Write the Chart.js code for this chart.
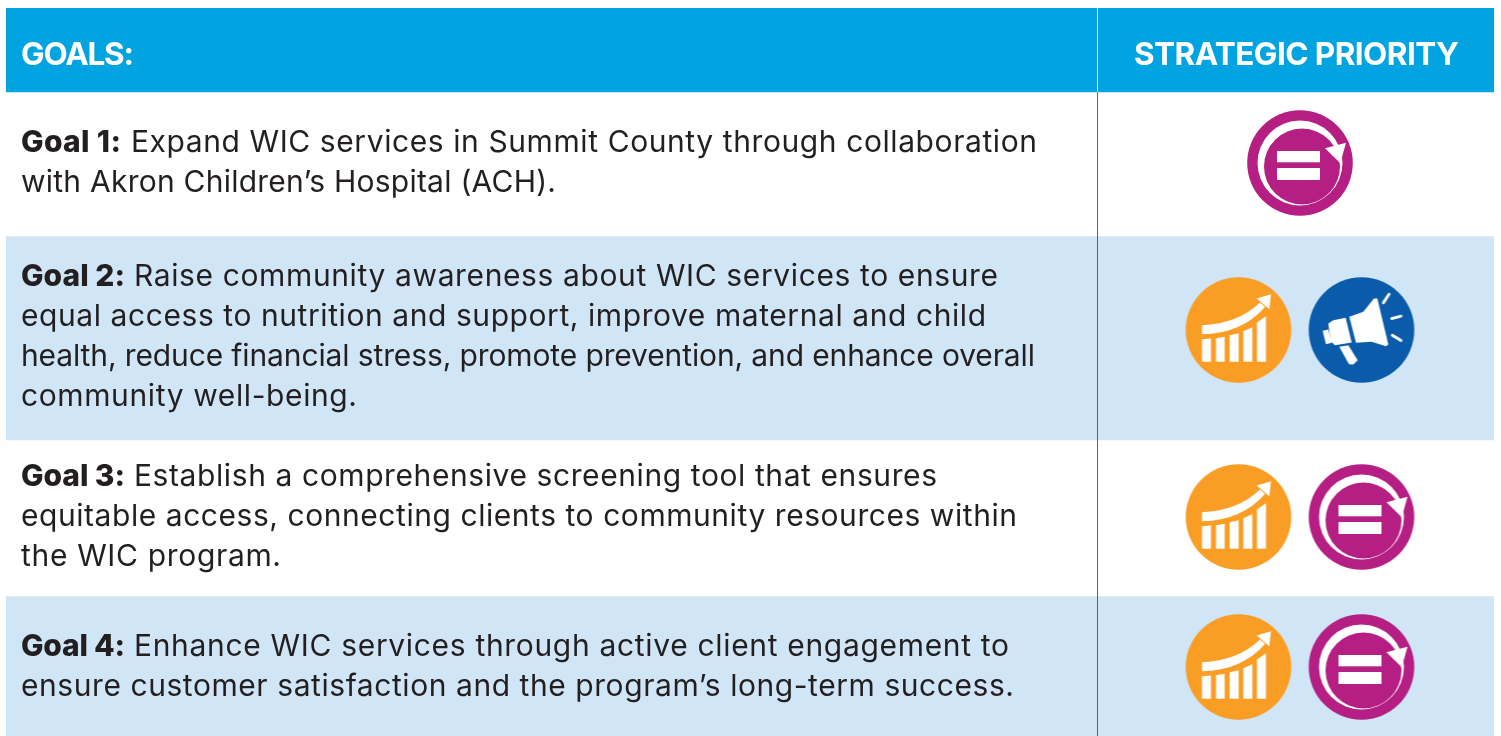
<!DOCTYPE html>
<html><head><meta charset="utf-8">
<style>html,body{margin:0;padding:0;background:#fff}canvas{display:block}</style>
<script src="https://cdn.jsdelivr.net/npm/chart.js@4"></script>
</head><body><canvas id="c" width="1501" height="736"></canvas>
<script>
// ---- content ----
const rowNames = ['header', 'goal1', 'goal2', 'goal3', 'goal4'];
const rowHeights = [84, 144, 204, 156, 140];
const headerLabels = ['GOALS:', 'STRATEGIC PRIORITY'];
const goalLabels = ['Goal 1:', 'Goal 2:', 'Goal 3:', 'Goal 4:'];
const goalLines = [
  ['Expand WIC services in Summit County through collaboration', 'with Akron Children’s Hospital (ACH).'],
  ['Raise community awareness about WIC services to ensure', 'equal access to nutrition and support, improve maternal and child', 'health, reduce financial stress, promote prevention, and enhance overall', 'community well-being.'],
  ['Establish a comprehensive screening tool that ensures', 'equitable access, connecting clients to community resources within', 'the WIC program.'],
  ['Enhance WIC services through active client engagement to', 'ensure customer satisfaction and the program’s long-term success.']
];
// strategic-priority icons per goal, located in table units
const iconNames = ['equity', 'growth', 'voice', 'growth', 'equity', 'growth', 'equity'];
const iconX = [1294, 1232.5, 1355.5, 1232.5, 1355.5, 1232.5, 1355.5];
const iconY = [155, 322, 322, 509, 509, 659, 659];
const dividerX = [1091.5, 1091.5];
const dividerHeaderY = [0, 84];
const dividerBodyY = [84, 728];

// ---- layout / style ----
const TW = 1488, TH = 728;
const rowColors = ['#02a3e1', '#ffffff', '#d0e6f7', '#ffffff', '#d0e6f7'];
const firstBaselines = [144, 278, 478, 648];
const lineStep = 40;
const labelEnds = [115, 119, 119, 119];
const firstStarts = [125, 128, 128, 128];
const lineEnds = [[1031, 550], [992, 980, 1029, 351], [931, 1011, 275], [1003, 1008]];
const FONT = 'Inter';

function poly(ctx, pts, ox, oy) {
  ctx.beginPath();
  pts.forEach((p, i) => { const x = p[0] / 3 - ox, y = p[1] / 3 - oy; i ? ctx.lineTo(x, y) : ctx.moveTo(x, y); });
  ctx.closePath(); ctx.fill();
}
function icon(name) {
  const cv = document.createElement('canvas'); cv.width = cv.height = 110;
  const g = cv.getContext('2d');
  g.translate(55, 55);
  g.fillStyle = {equity: '#b51f83', growth: '#f99d25', voice: '#0a5cab'}[name];
  g.beginPath(); g.arc(0, 0, 52.8, 0, 7); g.fill();
  g.fillStyle = '#fff'; g.strokeStyle = '#fff';
  if (name === 'equity') {
    g.beginPath(); g.arc(0, 0, 42.5, 0, 7); g.arc(2, 3.5, 38, 0, 7); g.fill('evenodd');
    g.beginPath(); g.moveTo(25, -14.7); g.lineTo(46, -20.3); g.lineTo(40.3, 0.3); g.closePath(); g.fill();
    g.fillRect(-23, -12, 43, 11.3); g.fillRect(-23, 5, 43, 12);
  } else if (name === 'growth') {
    const ox = 63.5, oy = 64.8;
    [[81,108,222,220],[123,149,219,215],[164,191,210,204],[205,232,198,186],[246,273,172,153]].forEach(b =>
      poly(g, [[b[0],b[2]],[b[1],b[3]],[b[1],290],[b[0],290]], ox, oy));
    g.beginPath(); g.moveTo(-36.5, -4.8); g.quadraticCurveTo(-0.2, -6.5, 21.5, -27.5);
    g.lineTo(26.5, -23.1); g.quadraticCurveTo(3.2, 3.5, -36.5, 4.2); g.closePath(); g.fill();
    poly(g, [[288,87],[245,100],[283,132]], ox, oy);
  } else {
    const ox = 61.5, oy = 64.8;
    poly(g, [[148,155],[190,140],[222,100],[232,100],[265,238],[258,243],[215,230],[168,233]], ox, oy);
    poly(g, [[85,175],[100,165],[137,158],[155,232],[105,240],[92,228]], ox, oy);
    poly(g, [[68,197],[85,193],[95,233],[78,237]], ox, oy);
    poly(g, [[118,245],[145,240],[173,285],[160,298],[147,297]], ox, oy);
    g.lineWidth = 2.8; g.lineCap = 'round';
    [[[250,113],[267,87]],[[275,160],[303,153]],[[277,210],[303,226]]].forEach(l => {
      g.beginPath(); g.moveTo(l[0][0]/3-ox, l[0][1]/3-oy); g.lineTo(l[1][0]/3-ox, l[1][1]/3-oy); g.stroke();
    });
  }
  return cv;
}
const iconCache = {};
const iconStyles = iconNames.map(n => iconCache[n] || (iconCache[n] = icon(n)));

function fitText(ctx, text, x0, x1, y) {
  ctx.letterSpacing = '0px';
  const w = ctx.measureText(text).width;
  const sp = (x1 - x0 - w) / Math.max(1, text.length - 1);
  ctx.letterSpacing = sp.toFixed(3) + 'px';
  ctx.fillText(text, x0, y);
  ctx.letterSpacing = '0px';
}
const tablePlugin = {
  id: 'tableText',
  afterDatasetsDraw(chart) {
    const ctx = chart.ctx, X = chart.scales.xMarks, Y = chart.scales.yMarks;
    ctx.save();
    ctx.textBaseline = 'alphabetic'; ctx.textAlign = 'left';
    ctx.fillStyle = '#ffffff';
    ctx.font = '700 31.5px ' + FONT;
    fitText(ctx, headerLabels[0], X.getPixelForValue(15), X.getPixelForValue(128), Y.getPixelForValue(56.5));
    fitText(ctx, headerLabels[1], X.getPixelForValue(1128), X.getPixelForValue(1453), Y.getPixelForValue(56.5));
    ctx.fillStyle = '#231f20';
    goalLines.forEach((lines, r) => {
      ctx.font = '800 30px ' + FONT;
      const by = firstBaselines[r];
      fitText(ctx, goalLabels[r], X.getPixelForValue(15), X.getPixelForValue(labelEnds[r]), Y.getPixelForValue(by));
      ctx.font = '400 30px ' + FONT;
      lines.forEach((t, i) => {
        const x0 = i === 0 ? firstStarts[r] : 15;
        fitText(ctx, t, X.getPixelForValue(x0), X.getPixelForValue(lineEnds[r][i]), Y.getPixelForValue(by + i * lineStep));
      });
    });
    ctx.restore();
  }
};

const bandSets = rowHeights.map((h, i) => ({
  type: 'bar', label: rowNames[i], data: [{x: TW / 2, y: h}], backgroundColor: rowColors[i],
  xAxisID: 'xMarks', yAxisID: 'yBand', stack: 'rows', barThickness: TW,
  borderWidth: 0, order: 5
}));
const line = (ys, color) => ({
  type: 'scatter', showLine: true, data: dividerX.map((x, i) => ({x, y: ys[i]})),
  borderColor: color, borderWidth: 1, pointRadius: 0, xAxisID: 'xMarks', yAxisID: 'yMarks', order: 3
});
new Chart(document.getElementById('c'), {
  type: 'bar',
  data: {
    datasets: [...bandSets, line(dividerHeaderY, '#ffffff'), line(dividerBodyY, '#1b75bc'), {
      type: 'scatter', label: 'icons',
      data: iconX.map((x, i) => ({x, y: iconY[i]})),
      pointStyle: iconStyles, xAxisID: 'xMarks', yAxisID: 'yMarks', order: 1
    }]
  },
  options: {
    responsive: false, animation: false, events: [],
    layout: {autoPadding: false, padding: {left: 6, right: 7, top: 8, bottom: 0}},
    plugins: {legend: {display: false}, tooltip: {enabled: false}},
    scales: {
      yBand: {type: 'linear', display: false, stacked: true, reverse: true, min: 0, max: TH},
      xMarks: {type: 'linear', display: false, offset: false, min: 0, max: TW},
      yMarks: {type: 'linear', display: false, offset: false, reverse: true, min: 0, max: TH}
    }
  },
  plugins: [tablePlugin]
});
</script></body></html>
